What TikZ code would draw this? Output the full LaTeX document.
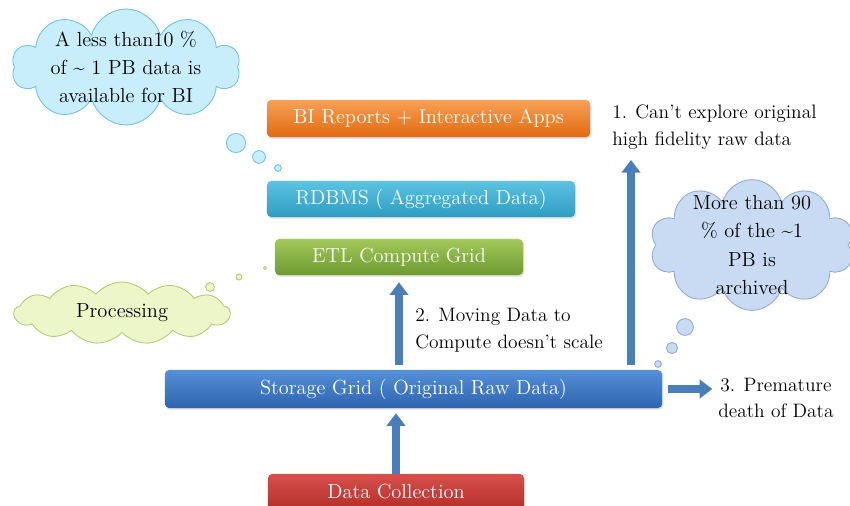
\documentclass[tikz,border=0pt]{standalone}
\usepackage{fontspec}
\usepackage{xcolor}
\usetikzlibrary{positioning,shapes.symbols,arrows.meta,shadows}
\definecolor{arrowblue}{HTML}{4A7EBB}
\definecolor{thinkblue}{HTML}{C9EEFB}
\definecolor{thinkline}{HTML}{6DC0E0}
\definecolor{archblue}{HTML}{C9DBF2}
\definecolor{archline}{HTML}{8CA9D6}
\definecolor{procgreen}{HTML}{EDF6C8}
\definecolor{procline}{HTML}{B0C970}
\definecolor{biTop}{HTML}{F9A056}
\definecolor{biBot}{HTML}{E06A10}
\definecolor{dbTop}{HTML}{5CC3E2}
\definecolor{dbBot}{HTML}{2E9CC2}
\definecolor{etlTop}{HTML}{A2C95A}
\definecolor{etlBot}{HTML}{6E9A2F}
\definecolor{gridTop}{HTML}{5590D8}
\definecolor{gridBot}{HTML}{2E64B0}
\definecolor{collTop}{HTML}{D9504B}
\definecolor{collBot}{HTML}{B32D28}

\begin{document}
\begin{tikzpicture}[
    x=0.025cm, y=-0.025cm,
    box/.style={rectangle, rounded corners=3pt, text=white, inner sep=0pt, font=\fontsize{14.5}{18}\selectfont,
        drop shadow={opacity=0.25, shadow xshift=0.8pt, shadow yshift=-1.2pt}},
    arrow/.style={draw=arrowblue, line width=5.5pt, -{Triangle[length=9pt, width=13pt]}},
    note/.style={inner sep=0pt, align=left, font=\fontsize{13.8}{19}\selectfont},
    thought/.style={cloud, cloud puffs=10, cloud ignores aspect, draw, line width=0.6pt, inner xsep=-4pt, inner ysep=-10pt, align=center, font=\fontsize{14.5}{20}\selectfont},
    bubble/.style={circle, draw, line width=0.6pt, inner sep=0pt}
]
    \useasboundingbox (0,0) rectangle (850,506);

    \node[box, minimum width=8.08cm, minimum height=0.93cm, top color=biTop, bottom color=biBot] (bi) at (428.5,118.5) {BI Reports + Interactive Apps};
    \node[box, minimum width=7.7cm, minimum height=0.9cm, top color=dbTop, bottom color=dbBot] (rdbms) at (421,199) {RDBMS ( Aggregated Data)};
    \node[box, minimum width=6.2cm, minimum height=0.9cm, top color=etlTop, bottom color=etlBot] (etl) at (399,257) {ETL Compute Grid};
    \node[box, minimum width=12.43cm, minimum height=0.95cm, top color=gridTop, bottom color=gridBot] (grid) at (413.5,389) {Storage Grid ( Original Raw Data)};
    \node[box, minimum width=6.4cm, minimum height=0.9cm, top color=collTop, bottom color=collBot] (coll) at (396,492) {Data Collection};

    \node[note, anchor=west] (note1) at (612,127) {1. Can't explore original\\high fidelity raw data};
    \node[note, anchor=west] (note2) at (415,330) {2. Moving Data to\\Compute doesn't scale};
    \node[note, anchor=west, align=center] (note3) at (718,398) {3. Premature\\death of Data};
    \coordinate (tip1) at (631,160);

    \draw[arrow, shorten >=3.5pt] (coll.north) -- (coll.north |- grid.south);
    \draw[arrow, shorten <=3pt, shorten >=5pt] (etl.south |- grid.north) -- (etl.south);
    \draw[arrow, shorten <=3pt] (tip1 |- grid.north) -- (tip1);
    \draw[arrow, shorten <=4pt, shorten >=4pt] (grid.east) -- (grid.east -| note3.west);

    \node[thought, draw=thinkline, fill=thinkblue, minimum width=5.7cm, minimum height=2.9cm] (cloudbi) at (126,67) {A less than10 \%\\of \textasciitilde{} 1 PB data is\\available for BI};
    \node[bubble, draw=thinkline, fill=thinkblue, minimum size=0.48cm] (bi1) at (236,143) {};
    \node[bubble, draw=thinkline, fill=thinkblue, minimum size=0.32cm] (bi2) at (259,157) {};
    \node[bubble, draw=thinkline, fill=thinkblue, minimum size=0.17cm] (bi3) at (278,168) {};

    \node[thought, draw=archline, fill=archblue, minimum width=5.1cm, minimum height=3cm] (cloudarch) at (752,245) {More than 90\\\% of the \textasciitilde1\\PB is\\archived};
    \node[bubble, draw=archline, fill=archblue, minimum size=0.42cm] (ar1) at (685,327) {};
    \node[bubble, draw=archline, fill=archblue, minimum size=0.28cm] (ar2) at (672,348) {};
    \node[bubble, draw=archline, fill=archblue, minimum size=0.17cm] (ar3) at (658,364) {};

    \node[thought, cloud puffs=13, cloud puff arc=100, inner sep=0pt, draw=procline, fill=procgreen, minimum width=5.4cm, minimum height=1.55cm] (cloudproc) at (122,313) {Processing};
    \node[bubble, draw=procline, fill=procgreen, minimum size=0.22cm] (pr1) at (210,287) {};
    \node[bubble, draw=procline, fill=procgreen, minimum size=0.15cm] (pr2) at (239,277) {};
    \node[bubble, draw=procline, fill=procgreen, minimum size=0.08cm] (pr3) at (265,268) {};
\end{tikzpicture}
\end{document}
